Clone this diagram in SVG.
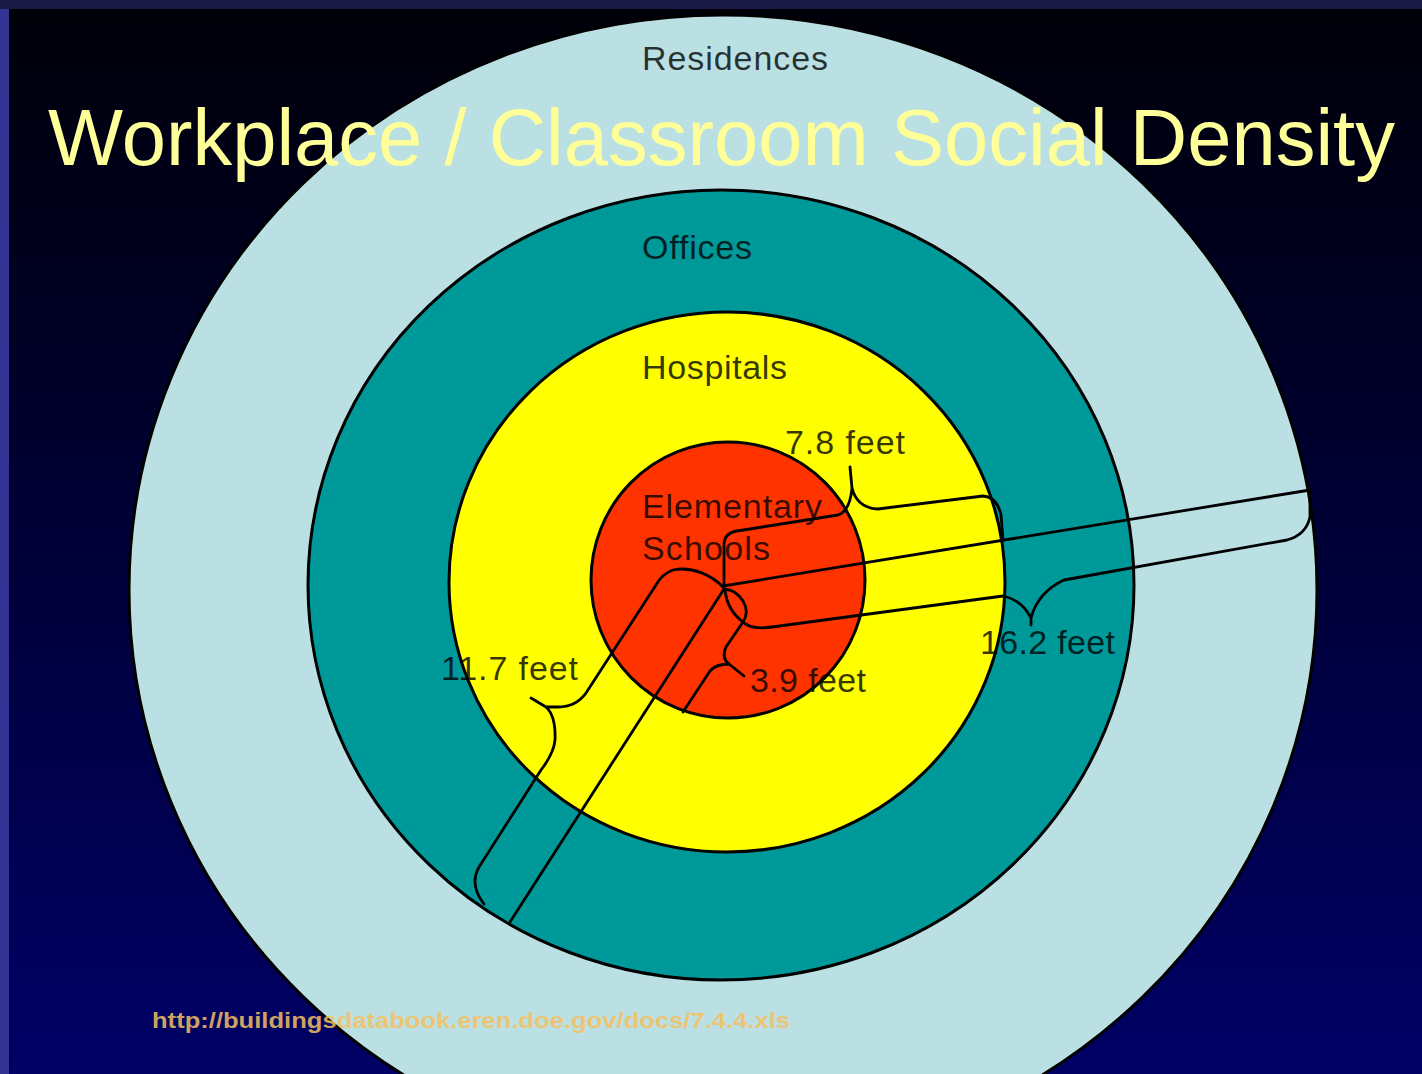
<svg xmlns="http://www.w3.org/2000/svg" width="1422" height="1074" viewBox="0 0 1422 1074">
  <defs>
    <linearGradient id="bg" x1="0" y1="0" x2="0" y2="1">
      <stop offset="0" stop-color="#000008"/>
      <stop offset="1" stop-color="#000066"/>
    </linearGradient>
    <style>
      .ring { stroke: #000; stroke-width: 3; }
      .lbl { font-family: "Liberation Sans", Arial, sans-serif; font-size: 34px; fill: #000; fill-opacity: 0.78; }
      .brace { fill: none; stroke: #000; stroke-width: 2.8; stroke-linejoin: round; stroke-linecap: round; }
      .title { font-family: "Liberation Sans", Arial, sans-serif; font-size: 80px; fill: #ffff99; }
      .url { font-family: "Liberation Sans", Arial, sans-serif; font-size: 22px; font-weight: bold; fill: #f5c060; fill-opacity: 0.85; }
    </style>
  </defs>

  <!-- slide background and frame strips -->
  <rect x="0" y="0" width="1422" height="1074" fill="url(#bg)"/>
  <rect x="0" y="0" width="9" height="1074" fill="#343494"/>
  <rect x="0" y="0" width="1422" height="9" fill="#1a1a45"/>

  <!-- concentric density rings -->
  <g id="residences">
    <ellipse class="ring" cx="723" cy="590" rx="594" ry="575" fill="#bbe0e3"/>
    <text class="lbl" x="642" y="70" textLength="186" lengthAdjust="spacing">Residences</text>
  </g>
  <g id="offices">
    <ellipse class="ring" cx="721" cy="585" rx="413" ry="395" fill="#009999"/>
    <text class="lbl" x="642" y="259" textLength="110" lengthAdjust="spacing">Offices</text>
  </g>
  <g id="hospitals">
    <ellipse class="ring" cx="727" cy="582" rx="278" ry="270" fill="#ffff00"/>
    <text class="lbl" x="642" y="379" textLength="145" lengthAdjust="spacing">Hospitals</text>
  </g>
  <g id="elementary-schools">
    <ellipse class="ring" cx="728" cy="580" rx="137" ry="138" fill="#ff3300"/>
    <text class="lbl" x="642" y="518" textLength="180" lengthAdjust="spacing">Elementary</text>
    <text class="lbl" x="642" y="560" textLength="128" lengthAdjust="spacing">Schools</text>
  </g>

  <!-- radius lines and measuring braces -->
  <g id="connectors">
    <path class="brace" d="M723,586 L1310,490"/>
    <path class="brace" d="M724,589 L510,922"/>
    <!-- 7.8 feet -->
    <path class="brace" d="M724,585 L724,545 Q724,533 737,531 L838,515 Q850,511 852,488 L850,467 M852,488 Q857,508 878,509 L983,496 Q997,497 1001,515 L1003,540"/>
    <!-- 16.2 feet -->
    <path class="brace" d="M725,589 C740,591 752,608 743,622 C749,628 758,629 772,627 L1003,596 Q1022,600 1031,618 L1031,625 M1031,618 Q1038,592 1064,580 L1287,540 Q1306,535 1310,517 L1310,490"/>
    <!-- 3.9 feet -->
    <path class="brace" d="M725,590 Q727,610 743,622 L726,647 Q721,658 729,664 L744,676 M729,664 Q716,664 710,671 L683,712"/>
    <!-- 11.7 feet -->
    <path class="brace" d="M724,588 C712,575 692,566 673,570 Q662,574 656,585 L586,693 Q576,707 558,707 L546,707 L531,698 M546,707 Q556,716 555,740 Q554,753 541,770 L479,867 Q469,885 484,904"/>
  </g>

  <g id="measure-labels">
    <text class="lbl" x="785" y="454" textLength="120" lengthAdjust="spacing">7.8 feet</text>
    <text class="lbl" x="441" y="680" textLength="137" lengthAdjust="spacing">11.7 feet</text>
    <text class="lbl" x="750" y="692" textLength="116" lengthAdjust="spacing">3.9 feet</text>
    <text class="lbl" x="980" y="654" textLength="135" lengthAdjust="spacing">16.2 feet</text>
  </g>

  <g id="title">
    <text class="title" x="48" y="165" textLength="1347" lengthAdjust="spacingAndGlyphs">Workplace / Classroom Social Density</text>
  </g>

  <g id="source">
    <text class="url" x="152" y="1028" textLength="638" lengthAdjust="spacingAndGlyphs">http://buildingsdatabook.eren.doe.gov/docs/7.4.4.xls</text>
  </g>
</svg>
